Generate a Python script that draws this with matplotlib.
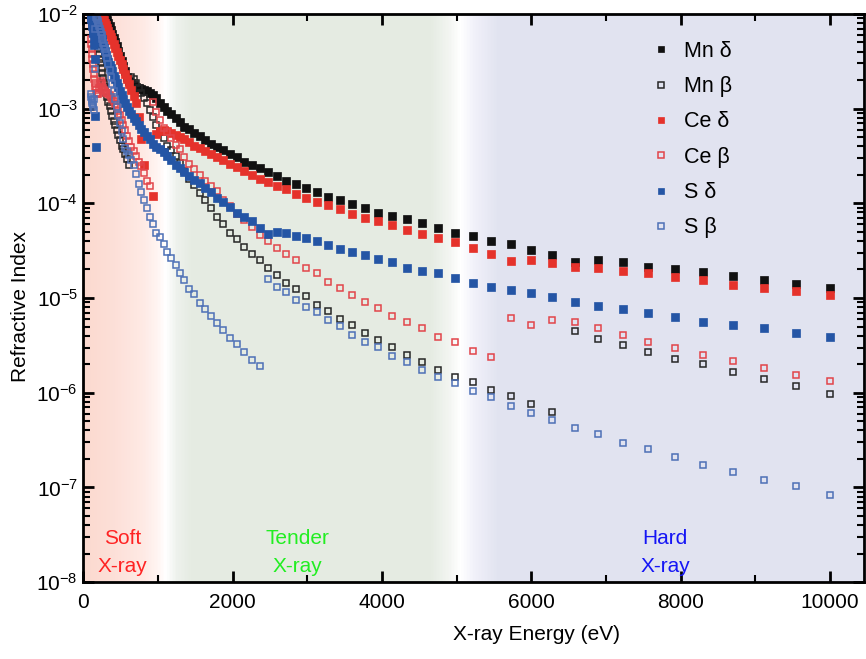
import numpy as np
import matplotlib
matplotlib.use("Agg")
import matplotlib.pyplot as plt
from matplotlib.lines import Line2D
from matplotlib.ticker import LogLocator, NullFormatter, FixedLocator

plt.rcParams['font.family'] = ['Liberation Sans', 'DejaVu Sans']
plt.rcParams['mathtext.fontset'] = 'custom'
plt.rcParams['mathtext.rm'] = 'Liberation Sans'
plt.rcParams['mathtext.it'] = 'Liberation Sans:italic'
plt.rcParams['mathtext.default'] = 'regular'

nan = np.nan

# ---- data (energies in eV, values as log10 of refractive-index terms) ----
energy_eV = [100.0, 104.8, 109.7, 115.0, 120.4, 126.2, 132.2, 138.5, 145.1, 152.0,
             159.2, 166.8, 174.7, 183.1, 191.8, 200.9, 210.5, 220.5, 231.0, 242.0,
             253.5, 265.6, 278.2, 291.5, 305.4, 319.9, 335.1, 351.1, 367.8, 385.3,
             403.7, 422.9, 443.0, 464.1, 486.2, 509.4, 533.7, 559.1, 585.7, 613.6,
             642.8, 673.4, 705.5, 739.1, 774.3, 811.2, 849.8, 890.3, 932.7, 977.1,
             1023.5, 1072.3, 1123.3, 1176.8, 1232.8, 1291.5, 1353.0, 1417.4, 1484.9, 1555.6,
             1629.8, 1707.3, 1788.6, 1873.8, 1963.0, 2056.5, 2154.4, 2257.0, 2364.4, 2477.0,
             2595.0, 2718.5, 2848.0, 2983.6, 3125.6, 3274.5, 3430.4, 3593.8, 3764.9, 3944.1,
             4131.9, 4328.7, 4534.8, 4750.8, 4977.0, 5214.0, 5462.3, 5722.4, 5994.8, 6280.3,
             6579.3, 6892.6, 7220.8, 7564.6, 7924.8, 8302.2, 8697.5, 9111.6, 9545.5, 10000.0]

mn_delta_log10 = [-1.50, -1.52, -1.54, -1.56, -1.58, -1.60, -1.62, -1.64, -1.66, -1.68,
                  -1.70, -1.72, -1.74, -1.76, -1.78, -1.80, -1.82, -1.84, -1.86, -1.88,
                  -1.91, -1.94, -1.97, -1.99, -2.03, -2.06, -2.10, -2.13, -2.17, -2.21,
                  -2.25, -2.30, -2.34, -2.39, -2.44, -2.50, -2.55, -2.60, -2.67, -2.71,
                  -2.73, -2.75, -2.77, -2.78, -2.79, -2.80, -2.81, -2.84, -2.86, -2.89,
                  -2.94, -2.98, -3.02, -3.06, -3.10, -3.14, -3.19, -3.22, -3.26, -3.29,
                  -3.33, -3.37, -3.41, -3.44, -3.48, -3.51, -3.56, -3.59, -3.63, -3.67,
                  -3.71, -3.76, -3.80, -3.84, -3.88, -3.93, -3.96, -4.01, -4.05, -4.10,
                  -4.13, -4.17, -4.21, -4.26, -4.31, -4.35, -4.40, -4.43, -4.49, -4.55,
                  -4.62, -4.60, -4.62, -4.67, -4.69, -4.73, -4.77, -4.81, -4.85, -4.89]

mn_beta_log10 = [-1.63, -1.68, -1.73, -1.78, -1.83, -1.88, -1.93, -1.97, -2.02, -2.07,
                 -2.12, -2.17, -2.22, -2.26, -2.32, -2.37, -2.42, -2.48, -2.52, -2.57,
                 -2.62, -2.68, -2.73, -2.77, -2.83, -2.88, -2.93, -2.97, -3.03, -3.08,
                 -3.13, -3.17, -3.23, -3.28, -3.33, -3.39, -3.43, -3.48, -3.53, -3.59,
                 -2.67, -2.69, -2.73, -2.78, -2.84, -2.89, -2.94, -3.01, -3.09, -3.17,
                 -3.25, -3.31, -3.39, -3.44, -3.50, -3.57, -3.66, -3.74, -3.81, -3.89,
                 -3.97, -4.05, -4.14, -4.22, -4.31, -4.38, -4.46, -4.53, -4.60, -4.68,
                 -4.76, -4.84, -4.91, -4.98, -5.07, -5.14, -5.22, -5.29, -5.37, -5.44,
                 -5.52, -5.60, -5.68, -5.76, -5.83, -5.89, -5.97, -6.04, -6.12, -6.20,
                 -5.35, -5.43, -5.50, -5.57, -5.64, -5.70, -5.78, -5.86, -5.93, -6.01]

ce_delta_log10 = [-1.61, -1.63, -1.65, -1.67, -1.69, -1.71, -1.73, -1.75, -1.77, -1.79,
                  -1.81, -1.83, -1.85, -1.87, -1.89, -1.91, -1.93, -1.95, -1.97, -1.99,
                  -2.02, -2.04, -2.06, -2.10, -2.12, -2.15, -2.18, -2.21, -2.24, -2.28,
                  -2.32, -2.36, -2.40, -2.44, -2.49, -2.53, -2.58, -2.63, -2.69, -2.74,
                  -2.80, -2.87, -2.94, -3.09, -3.32, -3.60, nan, nan, -3.92, -3.27,
                  -3.24, -3.23, -3.24, -3.26, -3.28, -3.30, -3.32, -3.35, -3.39, -3.42,
                  -3.45, -3.48, -3.51, -3.54, -3.58, -3.62, -3.66, -3.70, -3.74, -3.78,
                  -3.82, -3.85, -3.90, -3.94, -3.99, -4.02, -4.06, -4.11, -4.15, -4.19,
                  -4.23, -4.28, -4.32, -4.37, -4.41, -4.47, -4.53, -4.61, -4.60, -4.63,
                  -4.67, -4.68, -4.71, -4.74, -4.78, -4.81, -4.86, -4.89, -4.93, -4.97]

ce_beta_log10 = [-2.26, -2.32, -2.37, -2.42, -2.48, -2.53, -2.58, -2.63, -2.69, -2.73,
                 -2.77, -2.80, -2.83, -2.85, -2.85, -2.83, -2.78, -2.74, -2.71, -2.73,
                 -2.76, -2.78, -2.80, -2.81, -2.83, -2.84, -2.85, -2.86, -2.88, -2.90,
                 -2.92, -2.95, -2.98, -3.03, -3.07, -3.12, -3.17, -3.23, -3.29, -3.34,
                 -3.40, -3.45, -3.50, -3.56, -3.61, -3.68, -3.76, -3.82, -2.93, -3.04,
                 -3.12, -3.20, -3.25, -3.31, -3.38, -3.43, -3.51, -3.58, -3.64, -3.70,
                 -3.76, -3.82, -3.87, -3.96, -4.03, -4.11, -4.18, -4.25, -4.33, -4.40,
                 -4.47, -4.53, -4.60, -4.68, -4.74, -4.83, -4.89, -4.97, -5.04, -5.11,
                 -5.19, -5.25, -5.32, -5.41, -5.47, -5.56, -5.62, -5.21, -5.29, -5.23,
                 -5.25, -5.32, -5.39, -5.46, -5.53, -5.60, -5.67, -5.74, -5.81, -5.88]

s_delta_log10 = [-2.03, -2.05, -2.07, -2.10, -2.13, -2.16, -2.20, -2.25, -2.33, -2.48,
                 -3.08, -3.40, -2.11, -2.14, -2.16, -2.18, -2.20, -2.22, -2.24, -2.26,
                 -2.30, -2.33, -2.36, -2.39, -2.43, -2.48, -2.51, -2.54, -2.57, -2.60,
                 -2.65, -2.69, -2.73, -2.77, -2.81, -2.86, -2.90, -2.94, -2.98, -3.02,
                 -3.06, -3.10, -3.13, -3.17, -3.22, -3.25, -3.29, -3.32, -3.37, -3.40,
                 -3.43, -3.46, -3.50, -3.54, -3.59, -3.63, -3.67, -3.71, -3.75, -3.79,
                 -3.84, -3.88, -3.94, -3.99, -4.04, -4.10, -4.14, -4.19, -4.26, -4.32,
                 -4.30, -4.31, -4.34, -4.37, -4.40, -4.44, -4.48, -4.51, -4.55, -4.59,
                 -4.62, -4.68, -4.71, -4.74, -4.79, -4.84, -4.88, -4.92, -4.95, -4.99,
                 -5.04, -5.08, -5.12, -5.16, -5.20, -5.25, -5.28, -5.32, -5.37, -5.41]

s_beta_log10 = [-2.85, -2.88, -2.90, -2.92, -2.94, -2.96, -2.98, -3.01, -2.90, -2.58,
                -2.16, -2.03, -2.04, -2.05, -2.07, -2.10, -2.13, -2.16, -2.19, -2.22,
                -2.26, -2.31, -2.34, -2.37, -2.41, -2.47, -2.53, -2.59, -2.67, -2.74,
                -2.81, -2.90, -2.98, -3.07, -3.15, -3.24, -3.32, -3.42, -3.45, -3.49,
                -3.54, -3.60, -3.69, -3.80, -3.88, -3.97, -4.05, -4.14, -4.22, -4.31,
                -4.36, -4.43, -4.51, -4.58, -4.65, -4.74, -4.81, -4.90, -4.96, -5.05,
                -5.12, -5.19, -5.26, -5.34, -5.42, -5.49, -5.57, -5.65, -5.72, -4.80,
                -4.88, -4.94, -5.02, -5.09, -5.15, -5.23, -5.30, -5.39, -5.46, -5.52,
                -5.61, -5.68, -5.76, -5.83, -5.90, -5.98, -6.05, -6.14, -6.21, -6.29,
                -6.37, -6.44, -6.53, -6.60, -6.68, -6.76, -6.84, -6.92, -6.99, -7.08]

series_labels = ['Mn δ', 'Mn β', 'Ce δ', 'Ce β', 'S δ', 'S β']
x_ticks = [0, 2000, 4000, 6000, 8000, 10000]
x_minor_ticks = [1000, 3000, 5000, 7000, 9000]
region_labels = [('Soft\nX-ray', 520, '#ff2323'),
                 ('Tender\nX-ray', 2870, '#22ee22'),
                 ('Hard\nX-ray', 7790, '#1515f5')]

# ---- figure ----
fig = plt.figure(figsize=(8.66, 6.59), dpi=100)
ax = fig.add_axes([0.0964, 0.1168, 0.9017, 0.8620])
ax.set_yscale('log')
ax.set_xlim(0, 10460)
ax.set_ylim(1e-8, 1e-2)

# background bands (soft / tender / hard)
stops_E = [0, 400, 800, 1000, 1100, 1250, 1450, 4650, 4900, 5050, 5250, 5550, 10500]
stops_rgb = [(0.985, 0.85, 0.81), (0.99, 0.875, 0.845), (0.995, 0.915, 0.895),
             (1.0, 0.96, 0.95), (1.0, 1.0, 1.0), (0.93, 0.945, 0.925),
             (0.898, 0.922, 0.886), (0.898, 0.922, 0.886), (0.95, 0.96, 0.945),
             (1.0, 1.0, 1.0), (0.94, 0.94, 0.975), (0.882, 0.89, 0.941),
             (0.882, 0.89, 0.941)]
edges = np.linspace(0, 10460, 524)
rgb = np.array(stops_rgb)
for a, b in zip(edges[:-1], edges[1:]):
    m = 0.5 * (a + b)
    c = [np.interp(m, stops_E, rgb[:, k]) for k in range(3)]
    ax.axvspan(a, b, color=c, lw=0, zorder=0)

E = np.array(energy_eV)
styles = [
    (mn_delta_log10, dict(mfc='#111111', mec='#111111', ms=5.4, mew=0.5)),
    (mn_beta_log10, dict(mfc='none', mec='#262626', ms=5.0, mew=1.1)),
    (ce_delta_log10, dict(mfc='#e5322b', mec='#e5322b', ms=5.4, mew=0.5)),
    (ce_beta_log10, dict(mfc='none', mec='#e2444a', ms=5.0, mew=1.1)),
    (s_delta_log10, dict(mfc='#2455a5', mec='#2455a5', ms=5.4, mew=0.5)),
    (s_beta_log10, dict(mfc='none', mec='#4d70b6', ms=5.0, mew=1.1)),
]
handles = []
for (vals, st), lab in zip(styles, series_labels):
    y = np.power(10.0, np.array(vals, dtype=float))
    ax.plot(E, y, linestyle='none', marker='s', zorder=3, **st)
    handles.append(Line2D([], [], linestyle='none', marker='s', label=lab,
                          mfc=st['mfc'], mec=st['mec'], ms=4.6, mew=st['mew']))

leg = ax.legend(handles=handles, loc='upper left', bbox_to_anchor=(0.71, 0.983),
                frameon=False, fontsize=15.5, handlelength=0.55, handletextpad=0.8,
                labelspacing=0.665, borderpad=0.3)

for text, xpos, col in region_labels:
    ax.text(xpos, 2.05e-8, text, color=col, fontsize=15, ha='center', va='center',
            linespacing=1.6, zorder=4)

# axes styling
ax.set_xticks(x_ticks)
ax.xaxis.set_minor_locator(FixedLocator(x_minor_ticks))
ax.set_xticklabels([str(t) for t in x_ticks])
ax.yaxis.set_major_locator(LogLocator(base=10, numticks=10))
ax.yaxis.set_minor_locator(LogLocator(base=10, subs=np.arange(2, 10), numticks=20))
ax.yaxis.set_minor_formatter(NullFormatter())
ax.set_yticks([1e-8, 1e-7, 1e-6, 1e-5, 1e-4, 1e-3, 1e-2])
ax.set_yticklabels([r'$10^{%d}$' % k for k in range(-8, -1)])
ax.tick_params(which='both', direction='in', top=True, right=True, labelsize=15,
               colors='black')
ax.tick_params(which='major', length=8, width=2)
ax.tick_params(which='minor', length=5, width=1.5)
ax.tick_params(axis='x', pad=8)
ax.tick_params(axis='y', pad=4)
for sp in ax.spines.values():
    sp.set_linewidth(2)
    sp.set_zorder(5)

ax.set_xlabel('X-ray Energy (eV)', fontsize=15)
ax.set_ylabel('Refractive Index', fontsize=15)
ax.xaxis.set_label_coords(0.58, -0.075)
ax.yaxis.set_label_coords(-0.068, 0.485)

fig.savefig('out.png', dpi=100)
